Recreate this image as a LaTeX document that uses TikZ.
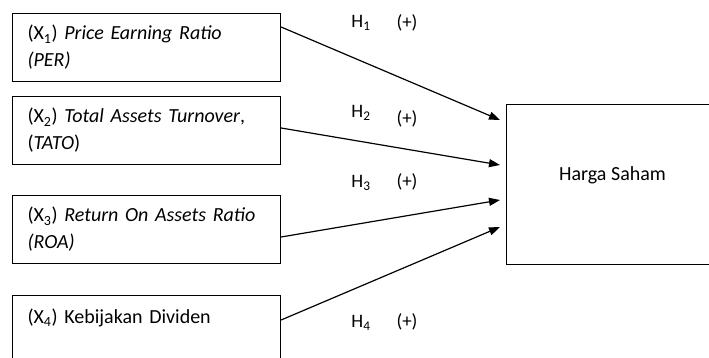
\documentclass[tikz,border=0pt]{standalone}
\usepackage{fontspec}
\setmainfont{Carlito}
\usetikzlibrary{arrows.meta}

\begin{document}
\begin{tikzpicture}[x=1pt,y=-1pt,
    var/.style={draw, line width=1.1pt, anchor=north west, inner xsep=15pt,
        text width=238pt, minimum height=68pt, align=left,
        font=\fontsize{20}{27}\selectfont},
    hyp/.style={font=\fontsize{19}{22}\selectfont},
    arr/.style={line width=1.2pt, -{Triangle[length=11pt,width=8pt]}}]
\useasboundingbox (0,0) rectangle (709,358);
\clip (0,0) rectangle (709,358);
\node[var] (x1) at (12,13) {(X\textsubscript{1}) \textit{Price Earning Ratio}\\\textit{(PER)}};
\node[var] (x2) at (12,96) {(X\textsubscript{2}) \textit{Total Assets Turnover},\\(\textit{TATO})};
\node[var] (x3) at (12,195) {(X\textsubscript{3}) \textit{Return On Assets Ratio}\\\textit{(ROA)}};
\node[var] (x4) at (12,295) {(X\textsubscript{4}) Kebijakan Dividen\\\mbox{}};
\node[draw, line width=1.1pt, anchor=north west, minimum width=212pt,
    minimum height=160pt, text height=14pt, text depth=23pt,
    font=\fontsize{20}{27}\selectfont] (harga) at (506,104) {Harga Saham};
% hipotesis
\foreach \n/\s/\e in {1/14/16,2/32/61,3/42/96,4/25/123}{
    \draw[arr] ([yshift=-\s pt]x\n.north east) -- ([xshift=-6pt,yshift=-\e pt]harga.north west);
}
\foreach \n/\hy/\py in {1/23/23,2/113/119,3/183/182,4/323/322}{
    \node[hyp] (h\n) at (361,\hy) {H\textsubscript{\n}};
    \node[hyp] (p\n) at (407,\py) {(+)};
}
\end{tikzpicture}
\end{document}
